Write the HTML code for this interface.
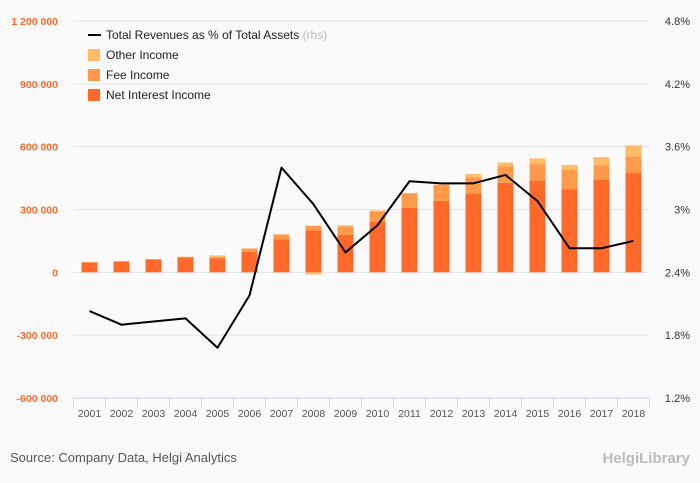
<!DOCTYPE html>
<html><head><meta charset="utf-8"><style>
body{margin:0;background:#fafafa;font-family:"Liberation Sans",sans-serif;}
svg{display:block}
</style></head><body>
<svg id="c" width="700" height="483">
<rect width="700" height="483" fill="#fafafa"/>
</svg>
<script>
const years=[2001,2002,2003,2004,2005,2006,2007,2008,2009,2010,2011,2012,2013,2014,2015,2016,2017,2018];
const netInterest=[45000,50000,61000,71000,66000,98000,157000,200000,180000,242000,308000,341000,374000,427000,436000,397000,441000,474000];
const feeIncome=[5000,4000,2000,3000,8000,16000,24000,22000,36000,50000,68000,78000,79000,80000,81000,92000,71000,80000];
const otherIncome=[0,0,0,0,7000,0,0,-10000,9000,3000,3000,0,16000,17000,27000,24000,38000,52000];
const revToAssets=[2.03,1.90,1.93,1.96,1.68,2.18,3.40,3.05,2.59,2.85,3.27,3.25,3.25,3.33,3.08,2.63,2.63,2.70];
const leftTicks=[-600000,-300000,0,300000,600000,900000,1200000];
const rightTicks=[1.2,1.8,2.4,3,3.6,4.2,4.8];
const rightLabels=["1.2%","1.8%","2.4%","3%","3.6%","4.2%","4.8%"];

const svg=document.getElementById('c');const NS='http://www.w3.org/2000/svg';
function el(t,a,p){const e=document.createElementNS(NS,t);for(const k in a)e.setAttribute(k,a[k]);(p||svg).appendChild(e);return e;}
const yTop=21,bot=398,x0=73.5,step=32;
const yL=v=>bot-(v+600000)/1800000*(bot-yTop);
const yR=v=>bot-(v-1.2)/3.6*(bot-yTop);
const xC=i=>x0+step*(i+0.5);
function fmt(v){const s=Math.abs(v).toString().replace(/\B(?=(\d{3})+(?!\d))/g,' ');return (v<0?'-':'')+s;}

leftTicks.forEach((v,i)=>{
 if(v!==-600000){const g=el('line',{x1:x0,x2:649,y1:yL(v),y2:yL(v),stroke:'#e3e3e3','stroke-width':1});
 
 }
 const t=el('text',{x:58,y:yL(v)+4,'text-anchor':'end','font-size':10.5,'font-weight':'bold',fill:'#ff6a2b'});t.textContent=fmt(v);
 
 
});
rightTicks.forEach((v,i)=>{
 const t=el('text',{x:690,y:yR(v)+4,'text-anchor':'end','font-size':11,fill:'#333'});t.textContent=rightLabels[i];
 
 
});
const ax=el('line',{x1:x0,x2:649.5,y1:bot,y2:bot,stroke:'#ccd6eb'});


years.forEach((y,i)=>{
 const tk=el('line',{x1:x0+step*i,x2:x0+step*i,y1:bot,y2:bot+9,stroke:'#ccd6eb'});
 
 
 const t=el('text',{x:xC(i),y:417,'text-anchor':'middle','font-size':10.5,fill:'#555'});t.textContent=y;
 
 
});
const tkLast=el('line',{x1:x0+step*18,x2:x0+step*18,y1:bot,y2:bot+9,stroke:'#ccd6eb'});



const bw=16;
years.forEach((y,i)=>{
 let pos=0,neg=0;
 [[netInterest,'#ff6a2b','bar-net-interest'],[feeIncome,'#ff9a4a','bar-fee-income'],[otherIncome,'#ffbb66','bar-other-income']].forEach(([arr,col,nm])=>{
  const v=arr[i];if(!v)return;
  let a,b;if(v>0){a=pos;b=pos+v;pos=b;}else{a=neg+v;b=neg;neg=a;}
  const r=el('rect',{x:xC(i)-bw/2,y:yL(b),width:bw,height:yL(a)-yL(b),fill:col});
  
  
 });
});
const pts=revToAssets.map((v,i)=>xC(i)+','+yR(v)).join(' ');
const pl=el('polyline',{points:pts,fill:'none',stroke:'#000','stroke-width':2,'stroke-linejoin':'round'});


</script>
<svg style="position:absolute;left:0;top:0" width="700" height="483">
<g font-family="Liberation Sans, sans-serif" font-size="12" fill="#222">
<g><line x1="88" x2="101" y1="35" y2="35" stroke="#000" stroke-width="2"/><text x="106" y="39">Total Revenues as % of Total Assets <tspan fill="#bbb">(rhs)</tspan></text></g>
<g><rect x="88" y="49" width="12" height="12" fill="#ffbb66"/><text x="106" y="59">Other Income</text></g>
<g><rect x="88" y="69" width="12" height="12" fill="#ff9a4a"/><text x="106" y="79">Fee Income</text></g>
<g><rect x="88" y="89" width="12" height="12" fill="#ff6a2b"/><text x="106" y="99">Net Interest Income</text></g>
</g>
<text x="10" y="462" font-size="13" fill="#555" font-family="Liberation Sans, sans-serif">Source: Company Data, Helgi Analytics</text>
<text x="690" y="463" text-anchor="end" font-size="15" font-weight="bold" fill="#bbb" font-family="Liberation Sans, sans-serif">HelgiLibrary</text>
</svg>
</body></html>
